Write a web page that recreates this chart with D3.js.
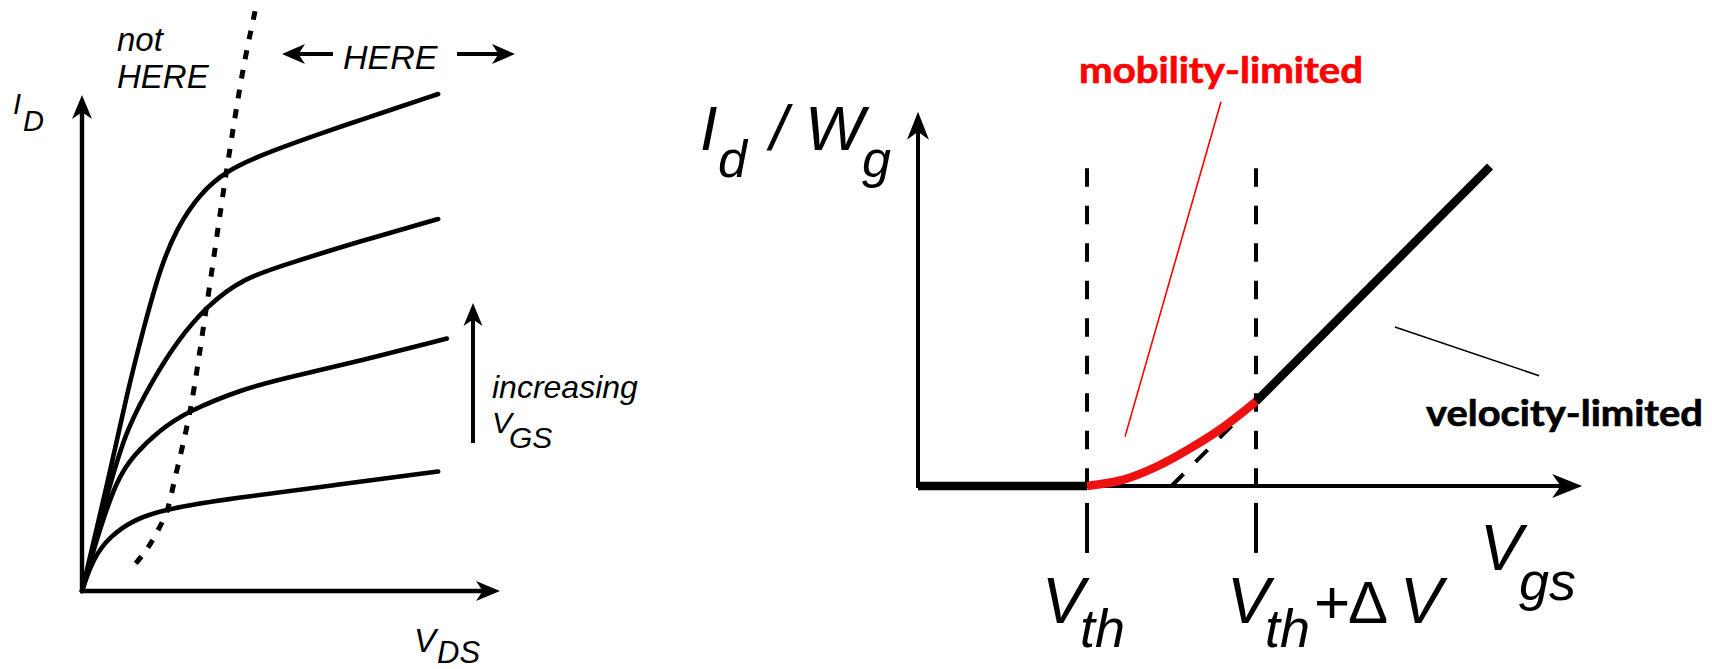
<!DOCTYPE html>
<html>
<head>
<meta charset="utf-8">
<script src="https://cdn.jsdelivr.net/npm/d3@7"></script>
<style>
  html, body { margin: 0; padding: 0; background: #fff; }
  svg { display: block; }
</style>
</head>
<body>
<svg id="chart" width="1712" height="669"></svg>
<script>
// ---------- Output characteristics: I_D vs V_DS, one curve per gate voltage ----------
// [V_DS, I_D] in arbitrary units, lowest V_GS first
const idCurveVgs1 = [[0,0],[0.27,0.67],[0.67,1.10],[1.23,1.44],[2.03,1.66],[3.61,1.87],[6.00,2.13],[8.52,2.41]];
const idCurveVgs2 = [[0,0],[0.36,1.08],[0.83,2.25],[1.23,2.74],[1.87,3.25],[2.50,3.61],[3.85,4.08],[5.05,4.33],[6.65,4.64],[8.73,5.09]];
const idCurveVgs3 = [[0,0],[0.69,2.23],[1.07,3.27],[1.71,4.28],[2.27,5.03],[2.98,5.74],[3.85,6.31],[5.05,6.63],[6.65,7.05],[8.52,7.50]];
const idCurveVgs4 = [[0,0],[0.67,2.39],[1.07,3.96],[1.47,5.29],[1.87,6.51],[2.27,7.32],[2.82,8.01],[3.46,8.48],[4.42,8.84],[6.00,9.31],[6.65,9.49],[8.52,10.02]];
// onset of saturation (dotted boundary), top to bottom
const saturationEdge = [[4.14,11.69],[3.86,10.54],[3.46,8.48],[2.98,5.74],[2.58,3.61],[2.22,2.26],[2.03,1.61],[1.79,1.18],[1.55,0.84],[1.27,0.54]];
const leftAxisMax = [10, 10];   // [V_DS, I_D] at the arrow tips

// ---------- Transfer characteristic: I_d/W_g vs V_gs ----------
// V_gs in units of dV past zero, V_th = 1, V_th + dV = 2
const offRegion      = [[0,0],[1,0]];
const mobilityRegion = [[1.0,0],[1.21,0.036],[1.41,0.114],[1.61,0.223],[1.81,0.351],[2.0,0.50]];
const velocityRegion = [[2.0,0.50],[3.385,1.89]];
const linearExtrap   = [[1.5,0],[2.0,0.50]];
const thresholds     = [1, 2];
const rightAxisMax   = [3.93, 2.215];
const dashTop        = 1.88;
const dashBelow      = [-0.10, -0.396];
const mobilityLeader = [[1.793,2.274],[1.225,0.292]];
const velocityLeader = [[2.822,0.941],[3.675,0.653]];

const svg = d3.select("#chart");
const INK = "#000";
const RED = "#ff0000";
const MATH = "'Liberation Sans', Arial, Helvetica, sans-serif";
const BOLD = "Lato, 'Open Sans', sans-serif";

// notched arrowhead with its tip at (x, y), pointing along angle (deg)
function arrowHead(g, x, y, angle, L, W) {
  g.append("path")
    .attr("d", `M0,0 L${-L},${-W} L${-L * 0.72},0 L${-L},${W} Z`)
    .attr("transform", `translate(${x},${y}) rotate(${angle})`)
    .attr("fill", INK);
}

function txt(g, s, x, y, size, opts = {}) {
  return g.append("text")
    .attr("x", x).attr("y", y)
    .attr("font-family", opts.family || MATH)
    .attr("font-style", opts.upright ? "normal" : "italic")
    .attr("font-weight", opts.weight || 400)
    .attr("font-size", size)
    .attr("fill", opts.fill || INK)
    .text(s);
}

// one text element holding several placed runs: [string, x, y, size]
function runs(g, parts) {
  const t = g.append("text")
    .attr("font-family", MATH).attr("font-style", "italic").attr("fill", INK);
  parts.forEach(([s, x, y, size]) => {
    t.append("tspan").attr("x", x).attr("y", y).attr("font-size", size).text(s);
  });
  return t;
}

// ================= left panel =================
const xL = d3.scaleLinear().domain([0, 10]).range([82, 500]);
const yL = d3.scaleLinear().domain([0, 10]).range([591, 95]);
const gL = svg.append("g");

const lineL = d3.line().x(d => xL(d[0])).y(d => yL(d[1])).curve(d3.curveBasis);
[idCurveVgs1, idCurveVgs2, idCurveVgs3, idCurveVgs4].forEach(c => {
  gL.append("path").attr("d", lineL(c))
    .attr("fill", "none").attr("stroke", INK).attr("stroke-width", 4.6)
    .attr("stroke-linecap", "round");
});

gL.append("path")
  .attr("d", d3.line().x(d => xL(d[0])).y(d => yL(d[1])).curve(d3.curveCatmullRom.alpha(0.5))(saturationEdge))
  .attr("fill", "none").attr("stroke", INK).attr("stroke-width", 5)
  .attr("stroke-dasharray", "9 11");

// axes
gL.append("line").attr("x1", xL(0)).attr("y1", yL(0)).attr("x2", xL(0)).attr("y2", yL(leftAxisMax[1]) + 12)
  .attr("stroke", INK).attr("stroke-width", 4.4);
arrowHead(gL, xL(0), yL(leftAxisMax[1]), -90, 24, 10);
gL.append("line").attr("x1", xL(0) - 2).attr("y1", yL(0)).attr("x2", xL(leftAxisMax[0]) - 12).attr("y2", yL(0))
  .attr("stroke", INK).attr("stroke-width", 4.4);
arrowHead(gL, xL(leftAxisMax[0]), yL(0), 0, 24, 10);

// axis labels
runs(gL, [["I", 13, 114, 29], ["D", 23, 131, 29]]);
runs(gL, [["V", 414, 652, 33], ["DS", 437, 663, 31]]);

// region annotations
runs(gL, [["not", 117, 50.5, 33], ["HERE", 117, 87.5, 33]]);
txt(gL, "HERE", 343, 69, 34);
gL.append("line").attr("x1", 333).attr("y1", 54).attr("x2", 295).attr("y2", 54).attr("stroke", INK).attr("stroke-width", 4);
arrowHead(gL, 282, 54, 180, 23, 10);
gL.append("line").attr("x1", 457).attr("y1", 54).attr("x2", 500).attr("y2", 54).attr("stroke", INK).attr("stroke-width", 4);
arrowHead(gL, 515, 54, 0, 23, 10);

// increasing V_GS
gL.append("line").attr("x1", 473).attr("y1", 443).attr("x2", 473).attr("y2", 315).attr("stroke", INK).attr("stroke-width", 4);
arrowHead(gL, 473, 303, -90, 23, 9.5);
runs(gL, [["increasing", 492, 398, 32], ["V", 492, 433, 30], ["GS", 509, 448, 30]]);

// ================= right panel =================
const xR = d3.scaleLinear().domain([0, 4]).range([918, 1594]);
const yR = d3.scaleLinear().domain([0, 2]).range([486, 148]);
const gR = svg.append("g");
const lineR = d3.line().x(d => xR(d[0])).y(d => yR(d[1]));

// threshold markers
thresholds.forEach(v => {
  gR.append("line").attr("x1", xR(v)).attr("x2", xR(v)).attr("y1", yR(dashTop)).attr("y2", yR(0))
    .attr("stroke", INK).attr("stroke-width", 4).attr("stroke-dasharray", "18.5 19");
  gR.append("line").attr("x1", xR(v)).attr("x2", xR(v)).attr("y1", yR(dashBelow[0])).attr("y2", yR(dashBelow[1]))
    .attr("stroke", INK).attr("stroke-width", 4);
});

// axes
gR.append("line").attr("x1", xR(0)).attr("y1", yR(0) + 2).attr("x2", xR(0)).attr("y2", yR(rightAxisMax[1]) + 14)
  .attr("stroke", INK).attr("stroke-width", 4);
arrowHead(gR, xR(0), yR(rightAxisMax[1]), -90, 28, 11);
gR.append("line").attr("x1", xR(0)).attr("y1", yR(0)).attr("x2", xR(rightAxisMax[0]) - 14).attr("y2", yR(0))
  .attr("stroke", INK).attr("stroke-width", 4);
arrowHead(gR, xR(rightAxisMax[0]), yR(0), 0, 30, 12);

// linear extrapolation to the intercept
gR.append("path").attr("d", lineR(linearExtrap))
  .attr("fill", "none").attr("stroke", INK).attr("stroke-width", 4).attr("stroke-dasharray", "17 17");

// curve segments
gR.append("path").attr("d", lineR(offRegion))
  .attr("fill", "none").attr("stroke", INK).attr("stroke-width", 8.5);
gR.append("path").attr("d", lineR(velocityRegion))
  .attr("fill", "none").attr("stroke", INK).attr("stroke-width", 8.5);
gR.append("path").attr("d", d3.line().x(d => xR(d[0])).y(d => yR(d[1])).curve(d3.curveMonotoneX)(mobilityRegion))
  .attr("fill", "none").attr("stroke", "#ee1111").attr("stroke-width", 8.5);

// leaders and region names
gR.append("path").attr("d", lineR(mobilityLeader)).attr("stroke", RED).attr("stroke-width", 1.6).attr("fill", "none");
gR.append("path").attr("d", lineR(velocityLeader)).attr("stroke", INK).attr("stroke-width", 1.6).attr("fill", "none");
txt(gR, "mobility-limited", 1079, 83, 37, { family: BOLD, upright: true, weight: 700, fill: RED })
  .attr("textLength", 284).attr("lengthAdjust", "spacingAndGlyphs")
  .attr("stroke", RED).attr("stroke-width", 0.7);
txt(gR, "velocity-limited", 1426, 426, 37, { family: BOLD, upright: true, weight: 700 })
  .attr("textLength", 277).attr("lengthAdjust", "spacingAndGlyphs")
  .attr("stroke", INK).attr("stroke-width", 0.7);

// axis labels
runs(gR, [["I", 700, 150, 63], ["d", 718, 177, 52], ["/", 770, 150, 63], ["W", 805, 150, 63], ["g", 862, 177, 52]]);
runs(gR, [["V", 1480, 570, 64], ["gs", 1519, 600, 54]]);

// threshold labels
runs(gR, [["V", xR(thresholds[0]) - 45, 623, 64], ["th", xR(thresholds[0]) - 7, 647, 54]]);
const lbl2 = runs(gR, [["V", xR(thresholds[1]) - 29, 623, 64], ["th", xR(thresholds[1]) + 9, 647, 54]]);
lbl2.append("tspan").attr("x", xR(thresholds[1]) + 58).attr("y", 623).attr("font-size", 62)
  .attr("font-style", "normal").text("+");
lbl2.append("tspan").attr("x", xR(thresholds[1]) + 92).attr("y", 623).attr("font-size", 60)
  .attr("font-style", "normal").text("\u0394");
lbl2.append("tspan").attr("x", xR(thresholds[1]) + 144).attr("y", 623).attr("font-size", 64).text("V");
</script>
</body>
</html>
